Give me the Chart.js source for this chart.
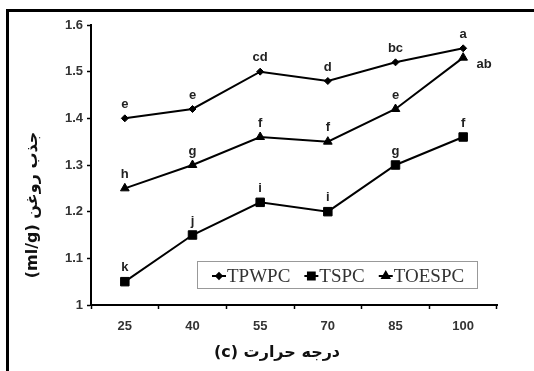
<!DOCTYPE html>
<html>
<head>
<meta charset="utf-8">
<script src="https://cdn.jsdelivr.net/npm/chart.js@4.4.0/dist/chart.umd.min.js"></script>
<style>
  body { margin: 0; background: #fff; }
  #wrap { position: relative; width: 534px; height: 371px; }
  #frame { position: absolute; left: 6px; top: 9px; right: 0; bottom: 0;
           border-top: 3px solid #000; border-left: 3px solid #000; pointer-events: none; }
</style>
</head>
<body>
<div id="wrap">
  <canvas id="chart" width="534" height="371"></canvas>
  <div id="frame"></div>
</div>
<script>
// temperatures (x categories)
const temps = ['25', '40', '55', '70', '85', '100'];

// oil absorption (ml/g)
const tpwpc = [1.40, 1.42, 1.50, 1.48, 1.52, 1.55];
const tspc = [1.05, 1.15, 1.22, 1.20, 1.30, 1.36];
const toespc = [1.25, 1.30, 1.36, 1.35, 1.42, 1.53];

// significance letters
const tpwpcLetters = ['e', 'e', 'cd', 'd', 'bc', 'a'];
const tspcLetters = ['k', 'j', 'i', 'i', 'g', 'f'];
const toespcLetters = ['h', 'g', 'f', 'f', 'e', 'ab'];

const yMin = 1, yMax = 1.6, yStep = 0.1;

const tickFont = { family: 'Arial, "Liberation Sans"', size: 13, weight: 'bold' };

// letters above each point
const lettersPlugin = {
  id: 'letters',
  afterDatasetsDraw(chart) {
    const ctx = chart.ctx;
    ctx.save();
    ctx.font = 'bold 13px Arial, "Liberation Sans"';
    ctx.fillStyle = '#222';
    ctx.textAlign = 'center';
    ctx.textBaseline = 'middle';
    chart.data.datasets.forEach((ds, di) => {
      const meta = chart.getDatasetMeta(di);
      meta.data.forEach((pt, i) => {
        const txt = ds.letters[i];
        if (txt === 'ab') {
          // this one sits to the right of the point
          ctx.fillText(txt, pt.x + 21, pt.y + 7);
        } else {
          ctx.fillText(txt, pt.x, pt.y - 14);
        }
      });
    });
    ctx.restore();
  }
};

// boxed legend inside the plot
const boxLegend = {
  id: 'boxLegend',
  afterDraw(chart) {
    const ctx = chart.ctx;
    ctx.save();
    ctx.fillStyle = '#fff';
    ctx.fillRect(197, 261, 280, 27);
    ctx.strokeStyle = '#999';
    ctx.lineWidth = 1;
    ctx.strokeRect(197.5, 261.5, 280, 27);
    ctx.font = '19px "Liberation Serif", "Times New Roman", serif';
    ctx.textBaseline = 'middle';
    let x = 212;
    const y = 276;
    chart.data.datasets.forEach(ds => {
      ctx.strokeStyle = '#000';
      ctx.lineWidth = 2;
      ctx.beginPath();
      ctx.moveTo(x, y);
      ctx.lineTo(x + 14, y);
      ctx.stroke();
      ctx.fillStyle = '#000';
      Chart.helpers.drawPoint(ctx, {
        pointStyle: ds.pointStyle, radius: ds.pointRadius * 0.8, rotation: 0, borderWidth: 1
      }, x + 7, y);
      ctx.fillStyle = '#333';
      ctx.fillText(ds.label, x + 15, y + 1);
      x += 15 + ctx.measureText(ds.label).width + 14;
    });
    ctx.restore();
  }
};

// Persian axis titles
const axisTitles = {
  id: 'axisTitles',
  afterDraw(chart) {
    const ctx = chart.ctx;
    ctx.save();
    ctx.fillStyle = '#111';
    ctx.textAlign = 'center';
    ctx.textBaseline = 'middle';
    ctx.direction = 'rtl';
    ctx.font = 'bold 16px "DejaVu Sans"';
    ctx.fillText('درجه حرارت (c)', 277, 353);
    ctx.translate(33, 205);
    ctx.rotate(-Math.PI / 2);
    ctx.fillText('جذب روغن (ml/g)', 0, 0);
    ctx.restore();
  }
};

const ctx = document.getElementById('chart').getContext('2d');
new Chart(ctx, {
  type: 'line',
  data: {
    labels: temps,
    datasets: [
      { label: 'TPWPC', data: tpwpc, letters: tpwpcLetters, pointStyle: 'rectRot', pointRadius: 3.5 },
      { label: 'TSPC', data: tspc, letters: tspcLetters, pointStyle: 'rect', pointRadius: 6 },
      { label: 'TOESPC', data: toespc, letters: toespcLetters, pointStyle: 'triangle', pointRadius: 5 }
    ].map(d => Object.assign(d, {
      borderColor: '#000', backgroundColor: '#000', borderWidth: 2,
      pointBorderWidth: 1, pointBorderColor: '#000', pointBackgroundColor: '#000', tension: 0
    }))
  },
  options: {
    responsive: false,
    animation: false,
    devicePixelRatio: 1,
    layout: { padding: { left: 0, top: 25, right: 37, bottom: 0 } },
    plugins: { legend: { display: false }, tooltip: { enabled: false } },
    scales: {
      x: {
        type: 'category',
        offset: true,
        grid: { offset: true, drawOnChartArea: false, tickLength: 4, tickColor: '#000', tickWidth: 1.5 },
        border: { color: '#000', width: 2 },
        ticks: { color: '#333', font: tickFont, padding: 10, maxRotation: 0 },
        afterFit(scale) { scale.height = 66; }
      },
      y: {
        min: yMin,
        max: yMax,
        grid: { drawOnChartArea: false, tickLength: 4, tickColor: '#000', tickWidth: 1.5 },
        border: { color: '#000', width: 2 },
        ticks: {
          stepSize: yStep, color: '#333', font: tickFont, padding: 4,
          callback: v => String(+v.toFixed(1))
        },
        afterFit(scale) { scale.width = 91; }
      }
    }
  },
  plugins: [lettersPlugin, boxLegend, axisTitles]
});
</script>
</body>
</html>
